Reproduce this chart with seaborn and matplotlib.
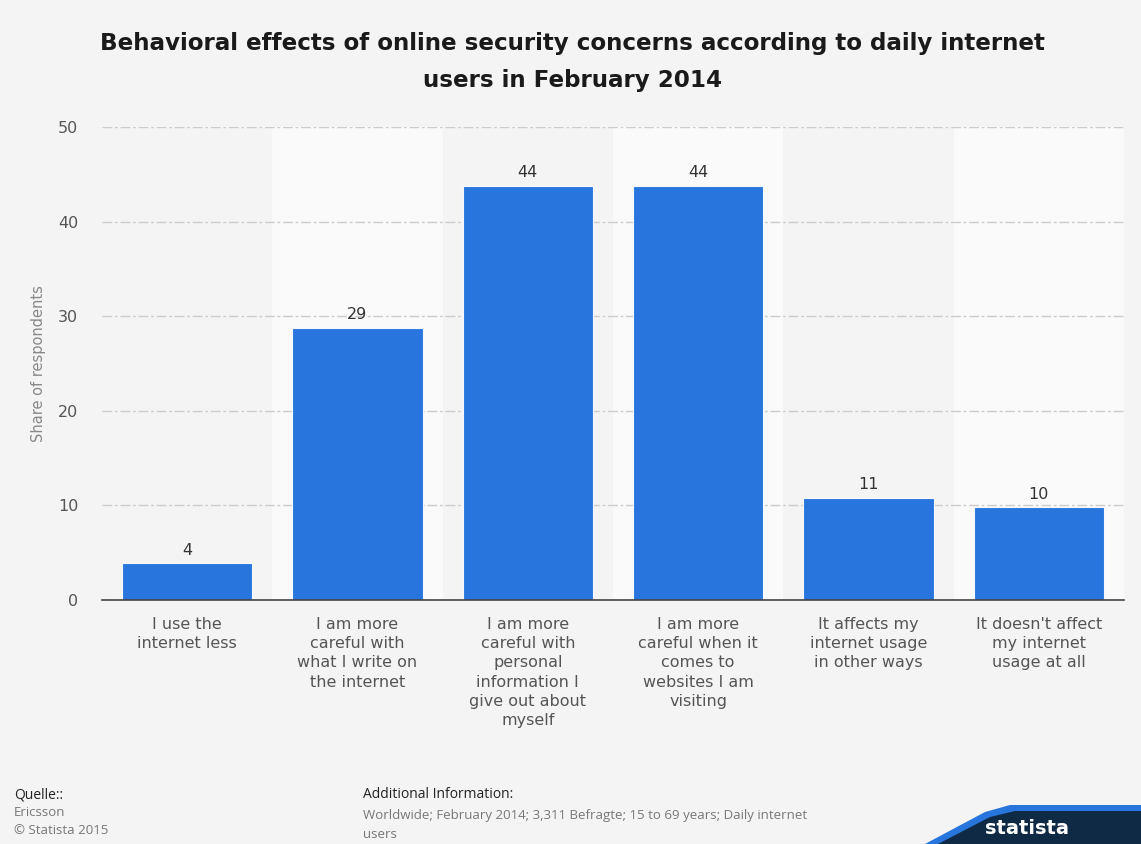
import matplotlib
matplotlib.use("Agg")
import matplotlib.pyplot as plt
import seaborn as sns
import pandas as pd
from matplotlib.patches import Polygon

categories = [
    "I use the\ninternet less",
    "I am more\ncareful with\nwhat I write on\nthe internet",
    "I am more\ncareful with\npersonal\ninformation I\ngive out about\nmyself",
    "I am more\ncareful when it\ncomes to\nwebsites I am\nvisiting",
    "It affects my\ninternet usage\nin other ways",
    "It doesn't affect\nmy internet\nusage at all",
]
values = [3.9, 28.8, 43.8, 43.8, 10.8, 9.8]
yticks = [0, 10, 20, 30, 40, 50]

title = "Behavioral effects of online security concerns according to daily internet\nusers in February 2014"
ylabel = "Share of respondents"

sns.set_theme(style="white")
plt.rcParams["font.family"] = ["DejaVu Sans"]

BG = "#f4f4f4"
BAR = "#2876dd"

fig = plt.figure(figsize=(11.41, 8.44), dpi=100, facecolor=BG)
ax = fig.add_axes([0.0894, 0.289, 0.8956, 0.5605])
ax.set_facecolor(BG)

df = pd.DataFrame({"cat": categories, "val": values})
sns.barplot(data=df, x="cat", y="val", color=BAR, width=0.765, saturation=1,
            ax=ax, zorder=3, edgecolor="#f4f8fc", linewidth=0.8)

n = len(categories)
for i in range(n):
    if i % 2 == 1:
        ax.axvspan(i - 0.5, i + 0.5, color="#fafafa", zorder=0, lw=0)

ax.set_xlim(-0.5, n - 0.5)
ax.set_ylim(0, 50)
ax.set_yticks(yticks)
ax.yaxis.grid(True, linestyle=(0, (7, 2, 2, 2)), color="#cccccc", linewidth=1, zorder=1)
for s in ["top", "right", "left"]:
    ax.spines[s].set_visible(False)
ax.spines["bottom"].set_color("#444444")
ax.spines["bottom"].set_linewidth(1.2)
ax.spines["bottom"].set_zorder(4)

ax.tick_params(axis="y", length=0, pad=17, labelsize=11.5, labelcolor="#555555")
ax.tick_params(axis="x", length=0, pad=12, labelsize=11.5, labelcolor="#555555")
for lab in ax.get_xticklabels():
    lab.set_linespacing(1.36)
    lab.set_va("top")

ax.set_xlabel("")
ax.set_ylabel(ylabel, fontsize=10.5, color="#888888", labelpad=9)

for i, v in enumerate(values):
    ax.annotate(f"{v:.0f}", (i, v), xytext=(0, 4), textcoords="offset points",
                ha="center", va="bottom", fontsize=11.5, color="#333333", zorder=5)

fig.text(0.5015, 1 - 62/844, title, ha="center", va="center", fontsize=16.6,
         fontweight="bold", color="#1a1a1a", linespacing=1.75)

# footer
FF = ["Open Sans", "DejaVu Sans"]
fig.text(14/1141, 1 - 795/844, "Quelle::", fontsize=10, color="#222222", va="center", family=FF)
fig.text(14/1141, 1 - 813/844, "Ericsson", fontsize=9.5, color="#777777", va="center", family=FF)
fig.text(14/1141, 1 - 831/844, "© Statista 2015", fontsize=9.5, color="#777777", va="center", family=FF)
fig.text(363/1141, 1 - 795/844, "Additional Information:", fontsize=10, color="#222222",
         va="center", family=FF)
fig.text(363/1141, 1 - 816/844,
         "Worldwide; February 2014; 3,311 Befragte; 15 to 69 years; Daily internet",
         fontsize=9.5, color="#777777", va="center", family=FF)
fig.text(363/1141, 1 - 834/844, "users", fontsize=9.5, color="#777777", va="center", family=FF)

# statista logo badge
def fc(x, y):
    return (x / 1141, 1 - y / 844)
outer = Polygon([fc(925, 844), fc(985, 812), fc(1010, 805), fc(1141, 805), fc(1141, 844)],
                closed=True, transform=fig.transFigure, facecolor="#2876dd", edgecolor="none")
inner = Polygon([fc(938, 844), fc(990, 817), fc(1015, 811), fc(1141, 811), fc(1141, 844)],
                closed=True, transform=fig.transFigure, facecolor="#0f2a44", edgecolor="none")
fig.patches.extend([outer, inner])
fig.text(985/1141, 1 - 828/844, "statista", fontsize=14, fontweight="bold", color="white",
         va="center", ha="left")

fig.savefig("out.png", dpi=100, facecolor=BG)
